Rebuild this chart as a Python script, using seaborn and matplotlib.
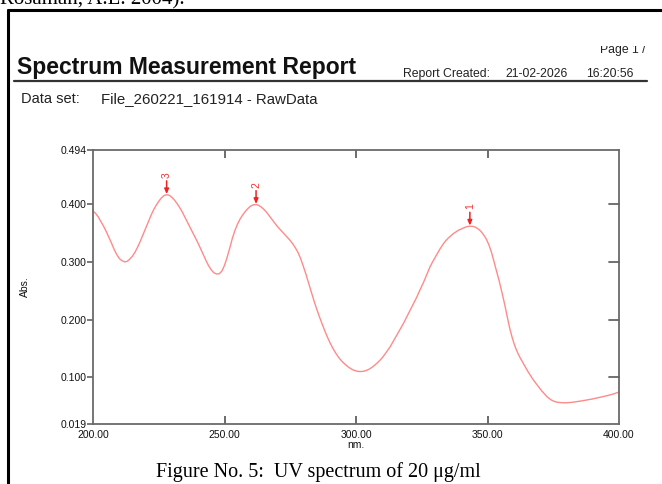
import numpy as np
import pandas as pd
import matplotlib
matplotlib.use("Agg")
import matplotlib.pyplot as plt
import seaborn as sns

# Absorbance spectrum: wavelength (nm) and absorbance readings
wavelength = [200, 201, 202, 203, 204, 205, 206, 207, 208, 209, 210, 211, 212.2, 213,
              214, 215, 216, 217, 218, 219, 220, 221, 222, 223, 224, 225, 226, 227,
              228, 229, 230, 231, 232, 233, 234, 235, 236, 237, 238, 239, 240, 241,
              242, 243, 244, 245, 246, 247, 248, 249, 250, 251, 252, 253, 254, 255,
              256, 257, 258, 259, 260, 261, 262, 263, 264, 265, 266, 267, 268, 269,
              270, 271, 272, 273, 274, 275, 276, 277, 278, 279, 280, 281, 282, 283,
              284, 285, 286, 287, 288, 289, 290, 291, 292, 293, 294, 295, 296, 297,
              298, 299, 300, 301, 302, 303, 304, 305, 306, 307, 308, 309, 310, 311,
              312, 313, 314, 315, 316, 317, 318, 319, 320, 321, 322, 323, 324, 325,
              326, 327, 328, 329, 330, 331, 332, 333, 334, 335, 336, 337, 338, 339,
              340, 341, 342, 343.3, 344.5, 345.5, 346.5, 347.5, 348.5, 349.5, 350.5,
              351.5, 352.5, 353.5, 354.5, 355.5, 356.5, 357.5, 358.5, 359.5, 360.5,
              361.5, 362.5, 363.5, 364.5, 365.5, 366.5, 367.5, 368.5, 369.5, 370.5,
              371.5, 372.5, 373.5, 374.5, 375.5, 376.5, 377.5, 378.8, 380, 382, 384,
              386, 388, 390, 392, 394, 396, 398, 400]
absorbance = [0.388, 0.384, 0.378, 0.370, 0.362, 0.353, 0.343, 0.333, 0.322, 0.313,
              0.306, 0.302, 0.300, 0.301, 0.305, 0.310, 0.317, 0.326, 0.336, 0.347,
              0.358, 0.369, 0.380, 0.390, 0.398, 0.405, 0.411, 0.415, 0.4165, 0.4155,
              0.412, 0.407, 0.401, 0.394, 0.386, 0.377, 0.368, 0.359, 0.350, 0.341,
              0.332, 0.322, 0.312, 0.302, 0.293, 0.286, 0.281, 0.279, 0.2795, 0.284,
              0.294, 0.308, 0.324, 0.341, 0.355, 0.366, 0.375, 0.382, 0.388, 0.393,
              0.397, 0.399, 0.3995, 0.398, 0.395, 0.391, 0.386, 0.380, 0.374, 0.368,
              0.362, 0.357, 0.352, 0.347, 0.342, 0.337, 0.331, 0.324, 0.316, 0.305,
              0.292, 0.278, 0.263, 0.248, 0.233, 0.219, 0.206, 0.194, 0.182, 0.171,
              0.161, 0.152, 0.144, 0.137, 0.131, 0.126, 0.122, 0.118, 0.115, 0.1125,
              0.111, 0.110, 0.110, 0.1105, 0.112, 0.114, 0.117, 0.1205, 0.1245, 0.129,
              0.134, 0.140, 0.1465, 0.153, 0.161, 0.169, 0.177, 0.185, 0.193, 0.202,
              0.211, 0.220, 0.229, 0.238, 0.248, 0.258, 0.268, 0.279, 0.290, 0.299,
              0.307, 0.315, 0.323, 0.330, 0.336, 0.341, 0.345, 0.349, 0.352, 0.355,
              0.357, 0.359, 0.361, 0.362, 0.3615, 0.360, 0.357, 0.353, 0.347, 0.340,
              0.330, 0.317, 0.300, 0.283, 0.266, 0.247, 0.227, 0.205, 0.184, 0.167,
              0.153, 0.142, 0.133, 0.125, 0.117, 0.109, 0.102, 0.095, 0.089, 0.083,
              0.077, 0.072, 0.067, 0.063, 0.060, 0.058, 0.0568, 0.0562, 0.0558, 0.0558,
              0.0565, 0.0578, 0.0592, 0.0608, 0.0625, 0.0645, 0.0666, 0.0688, 0.0712,
              0.0745]

# Picked peaks
peak_labels = ["1", "2", "3"]
peak_nm = [343.3, 262, 228]
peak_abs = [0.362, 0.3995, 0.4165]

x_ticks = [200, 250, 300, 350, 400]
x_tick_labels = ["200.00", "250.00", "300.00", "350.00", "400.00"]
y_ticks = [0.019, 0.100, 0.200, 0.300, 0.400, 0.494]
y_tick_labels = ["0.019", "0.100", "0.200", "0.300", "0.400", "0.494"]

sns.set_style("white")
plt.rcParams["font.family"] = ["Liberation Sans", "DejaVu Sans"]

W, H = 662, 484
fig = plt.figure(figsize=(W / 100, H / 100), dpi=100)


def fx(px):
    return px / W


def fy(py):
    return 1 - py / H


# Tail of the preceding paragraph, cut by the page edge
fig.text(fx(0), fy(4), "Rosaman, A.L. 2004).", family="Liberation Serif",
         fontsize=15, va="baseline", ha="left", color="black")

# Page frame lines
fig.add_artist(plt.Line2D([fx(8), 1.0], [fy(10), fy(10)], color="black", lw=2.2))
fig.add_artist(plt.Line2D([fx(8), fx(8)], [fy(10), 0.0], color="black", lw=2.2))

# Report header
fig.text(fx(17), fy(74), "Spectrum Measurement Report", fontsize=16.5,
         fontweight="bold", color="#111111", va="baseline", ha="left")
fig.text(fx(403), fy(77), "Report Created:", fontsize=8.8, color="#222222",
         va="baseline", ha="left")
fig.text(fx(505), fy(77), "21-02-2026", fontsize=8.8, color="#222222",
         va="baseline", ha="left")
fig.text(fx(586), fy(77), "16:20:56", fontsize=8.8, color="#222222",
         va="baseline", ha="left")
fig.text(fx(600), fy(53), "Page 1 /", fontsize=8.8, color="#222222",
         va="baseline", ha="left")
# the page number is half hidden under the sheet's top margin
fig.add_artist(plt.Rectangle((fx(590), fy(46)), fx(72), fy(20) - fy(46),
                             facecolor="white", edgecolor="none", zorder=5))
fig.add_artist(plt.Line2D([fx(14), fx(647)], [fy(81), fy(81)], color="#333333", lw=1.6))
fig.text(fx(21), fy(103), "Data set:", fontsize=10.5, color="#222222",
         va="baseline", ha="left")
fig.text(fx(101), fy(103), "File_260221_161914 - RawData", fontsize=10.8,
         color="#222222", va="baseline", ha="left")

# Spectrum axes
ax = fig.add_axes([fx(93), fy(424), fx(619) - fx(93), fy(150) - fy(424)])
df = pd.DataFrame({"nm": wavelength, "Abs": absorbance})
sns.lineplot(data=df, x="nm", y="Abs", ax=ax, color="#ff8a8a", lw=1.0)

ax.set_xlim(200, 400)
ax.set_ylim(0.019, 0.494)
ax.set_xticks(x_ticks)
ax.set_xticklabels(x_tick_labels)
ax.set_yticks(y_ticks)
ax.set_yticklabels(y_tick_labels)

for s in ax.spines.values():
    s.set_color("#6a6a6a")
    s.set_linewidth(1.3)

ax.tick_params(axis="y", which="both", direction="out", length=4, width=1.1,
               color="#555555", labelsize=7.5, labelcolor="#111111", pad=0.5)
ax.tick_params(axis="x", which="both", direction="in", length=6, width=1.1,
               color="#444444", labelsize=7.5, labelcolor="#111111", pad=4.5)
ax.yaxis.set_ticks_position("left")
ax.xaxis.set_ticks_position("both")
# short inner ticks on the right spine
for yt in y_ticks[1:-1]:
    ax.plot([396.2, 400], [yt, yt], color="#666666", lw=1.3, clip_on=False, zorder=3)
# no ticks at the x-range ends
for t in ax.xaxis.get_major_ticks():
    if t.get_loc() in (200, 400):
        t.tick1line.set_visible(False)
        t.tick2line.set_visible(False)

ax.set_xlabel("nm.", fontsize=7.5, labelpad=0, color="#111111")
ax.set_ylabel("Abs.", fontsize=7.5, labelpad=22, color="#111111")

# Peak markers
for lab, px, py in zip(peak_labels, peak_nm, peak_abs):
    ax.annotate("", xy=(px, py + 0.001), xytext=(px, py + 0.024),
                arrowprops=dict(arrowstyle="-|>,head_length=0.3,head_width=0.13",
                                color="#ee2222", lw=1.1, shrinkA=0, shrinkB=0))
    ax.text(px, py + 0.029, lab, rotation=90, color="#ee3333", fontsize=7.5,
            ha="center", va="bottom")

# Caption
fig.text(fx(318), fy(477), "Figure No. 5:  UV spectrum of 20 \u03bcg/ml",
         family="Liberation Serif", fontsize=14.5, ha="center", va="baseline",
         color="black")

fig.savefig("out.png", dpi=100)
